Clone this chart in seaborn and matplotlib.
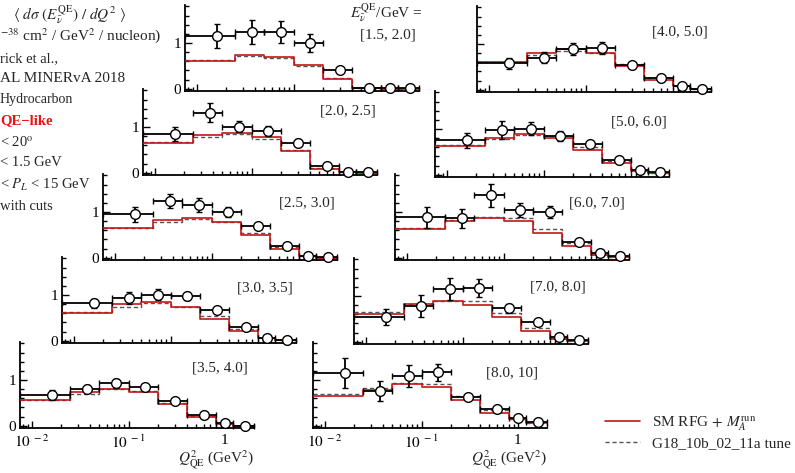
import numpy as np
import pandas as pd
import matplotlib
matplotlib.use("Agg")
import matplotlib.pyplot as plt
import seaborn as sns
from matplotlib.ticker import (LogLocator, FixedLocator, MultipleLocator,
                               FixedFormatter, NullFormatter)
from matplotlib.lines import Line2D

sns.set_theme(style="ticks")
plt.rcParams['font.family'] = ['Liberation Serif', 'DejaVu Serif']
plt.rcParams['mathtext.fontset'] = 'stix'

# ---------------- data ----------------
BIN_EDGES = [0.0, 0.025, 0.05, 0.1, 0.2, 0.4, 0.8, 1.2, 2.0]
Q2_POINTS = [0.016, 0.0375, 0.075, 0.15, 0.3, 0.6, 1.0, 1.6]
E_LABELS = ["[1.5, 2.0]", "[2.0, 2.5]", "[2.5, 3.0]", "[3.0, 3.5]", "[3.5, 4.0]",
            "[4.0, 5.0]", "[5.0, 6.0]", "[6.0, 7.0]", "[7.0, 8.0]", "[8.0, 10]"]

data_15_20 = [1.15, 1.24, 1.24, 1.00, 0.41, 0.015, 0.01, 0.01]
err_15_20 = [0.26, 0.26, 0.23, 0.19, 0.06, 0.02, 0.01, 0.01]
rfg_15_20 = [0.61, 0.73, 0.70, 0.52, 0.21, 0.015, 0.0, 0.0]
g18_15_20 = [0.63, 0.71, 0.68, 0.50, 0.23, 0.02, 0.0, 0.0]

data_20_25 = [0.84, 1.31, 1.00, 0.91, 0.66, 0.15, 0.02, 0.02]
err_20_25 = [0.15, 0.21, 0.12, 0.11, 0.07, 0.03, 0.02, 0.01]
rfg_20_25 = [0.66, 0.82, 0.86, 0.77, 0.47, 0.09, 0.01, 0.0]
g18_20_25 = [0.68, 0.79, 0.84, 0.74, 0.50, 0.11, 0.01, 0.0]

data_25_30 = [0.95, 1.24, 1.16, 0.99, 0.69, 0.26, 0.03, 0.015]
err_25_30 = [0.16, 0.16, 0.15, 0.11, 0.05, 0.03, 0.02, 0.01]
rfg_25_30 = [0.64, 0.82, 0.87, 0.77, 0.49, 0.20, 0.03, 0.0]
g18_25_30 = [0.66, 0.78, 0.84, 0.78, 0.53, 0.23, 0.03, 0.0]

data_30_35 = [0.82, 0.94, 1.01, 0.98, 0.67, 0.29, 0.07, 0.015]
err_30_35 = [0.10, 0.13, 0.12, 0.08, 0.04, 0.03, 0.02, 0.01]
rfg_30_35 = [0.61, 0.80, 0.84, 0.74, 0.47, 0.21, 0.05, 0.01]
g18_30_35 = [0.63, 0.73, 0.82, 0.74, 0.53, 0.25, 0.06, 0.01]

data_35_40 = [0.67, 0.80, 0.93, 0.85, 0.54, 0.24, 0.07, 0.0]
err_35_40 = [0.10, 0.09, 0.10, 0.06, 0.03, 0.02, 0.02, 0.01]
rfg_35_40 = [0.56, 0.74, 0.81, 0.74, 0.48, 0.19, 0.04, 0.0]
g18_35_40 = [0.57, 0.70, 0.80, 0.76, 0.50, 0.21, 0.05, 0.0]

data_40_50 = [0.58, 0.70, 0.89, 0.91, 0.53, 0.26, 0.09, 0.02]
err_40_50 = [0.12, 0.12, 0.13, 0.13, 0.04, 0.03, 0.02, 0.01]
rfg_40_50 = [0.60, 0.80, 0.88, 0.80, 0.51, 0.22, 0.09, 0.02]
g18_40_50 = [0.60, 0.76, 0.84, 0.80, 0.57, 0.25, 0.09, 0.02]

data_50_60 = [0.75, 0.98, 1.01, 0.84, 0.67, 0.32, 0.10, 0.05]
err_50_60 = [0.17, 0.19, 0.15, 0.11, 0.06, 0.03, 0.02, 0.01]
rfg_50_60 = [0.62, 0.80, 0.89, 0.80, 0.55, 0.26, 0.09, 0.03]
g18_50_60 = [0.64, 0.78, 0.87, 0.84, 0.60, 0.30, 0.10, 0.03]

data_60_70 = [0.88, 0.86, 1.36, 1.05, 0.99, 0.35, 0.11, 0.04]
err_60_70 = [0.23, 0.20, 0.25, 0.15, 0.13, 0.04, 0.03, 0.01]
rfg_60_70 = [0.63, 0.80, 0.86, 0.80, 0.54, 0.25, 0.07, 0.02]
g18_60_70 = [0.65, 0.82, 0.90, 0.86, 0.62, 0.33, 0.09, 0.02]

data_70_80 = [0.54, 0.79, 1.15, 1.17, 0.73, 0.42, 0.11, 0.03]
err_70_80 = [0.18, 0.24, 0.24, 0.20, 0.10, 0.04, 0.03, 0.01]
rfg_70_80 = [0.61, 0.83, 0.88, 0.81, 0.53, 0.24, 0.07, 0.02]
g18_70_80 = [0.65, 0.82, 0.90, 0.88, 0.63, 0.30, 0.09, 0.02]

data_80_100 = [1.16, 0.75, 1.09, 1.17, 0.62, 0.37, 0.17, 0.08]
err_80_100 = [0.33, 0.22, 0.24, 0.19, 0.05, 0.04, 0.03, 0.02]
rfg_80_100 = [0.64, 0.79, 0.91, 0.84, 0.57, 0.28, 0.14, 0.05]
g18_80_100 = [0.69, 0.82, 0.93, 0.91, 0.64, 0.34, 0.15, 0.05]

DATA = [data_15_20, data_20_25, data_25_30, data_30_35, data_35_40,
        data_40_50, data_50_60, data_60_70, data_70_80, data_80_100]
ERRS = [err_15_20, err_20_25, err_25_30, err_30_35, err_35_40,
        err_40_50, err_50_60, err_60_70, err_70_80, err_80_100]
RFG = [rfg_15_20, rfg_20_25, rfg_25_30, rfg_30_35, rfg_35_40,
       rfg_40_50, rfg_50_60, rfg_60_70, rfg_70_80, rfg_80_100]
G18 = [g18_15_20, g18_20_25, g18_25_30, g18_30_35, g18_35_40,
       g18_40_50, g18_50_60, g18_60_70, g18_70_80, g18_80_100]

# ---------------- layout ----------------
W, H = 795, 473
AX_W, AX_H = 234, 86
LAYOUT = [(185, 91), (143, 175), (103, 260), (62, 343), (20, 428),
          (477, 92), (435, 177), (395, 260), (354, 344), (313, 428)]
LABEL_POS = [(0.867, 0.65), (0.876, 0.74), (0.872, 0.66), (0.867, 0.64), (0.855, 0.70),
             (0.865, 0.70), (0.87, 0.64), (0.864, 0.66), (0.87, 0.66), (0.85, 0.64)]
XLIM = (0.0075, 2.0)
YLIM = (-0.05, 1.83)
RED = '#c01818'
GRAY = '#555555'
FS = 10
FS_LAB = 11

fig = plt.figure(figsize=(W / 100, H / 100), dpi=100)
fig.patch.set_facecolor('white')

edges = np.clip(np.array(BIN_EDGES), XLIM[0], None)
pts = np.array(Q2_POINTS)
xerr = [pts - edges[:-1], edges[1:] - pts]

for i, (l, b) in enumerate(LAYOUT):
    ax = fig.add_axes([l / W, 1 - b / H, AX_W / W, AX_H / H])
    ax.patch.set_alpha(0)
    ax.set_xscale('log')
    df = pd.DataFrame({'q2': edges,
                       'rfg': RFG[i] + [RFG[i][-1]],
                       'g18': G18[i] + [G18[i][-1]]})
    sns.lineplot(data=df, x='q2', y='g18', ax=ax, drawstyle='steps-post',
                 color=GRAY, lw=1.0, linestyle=(0, (3, 2)), estimator=None,
                 sort=False, zorder=2)
    sns.lineplot(data=df, x='q2', y='rfg', ax=ax, drawstyle='steps-post',
                 color=RED, lw=1.2, estimator=None, sort=False, zorder=3)
    ax.errorbar(pts, DATA[i], yerr=ERRS[i], xerr=xerr, fmt='o', mfc='white',
                mec='black', mew=1.0, color='black', ms=7, capsize=2.5,
                elinewidth=1.3, capthick=1.2, zorder=5, clip_on=False)
    ax.set_xlim(XLIM)
    ax.set_ylim(YLIM)
    ax.set_xlabel('')
    ax.set_ylabel('')
    ax.xaxis.set_major_locator(FixedLocator([0.01, 0.1, 1.0]))
    ax.xaxis.set_minor_locator(LogLocator(base=10, subs=np.arange(2, 10) * 1.0, numticks=20))
    ax.xaxis.set_minor_formatter(NullFormatter())
    ax.yaxis.set_major_locator(FixedLocator([0, 1]))
    ax.yaxis.set_minor_locator(MultipleLocator(0.2))
    ax.tick_params(which='both', direction='in', top=False, right=False,
                   width=1.0, color='black', labelsize=FS_LAB, labelcolor='black')
    ax.tick_params(which='major', length=5)
    ax.tick_params(which='minor', length=3)
    for s in ['top', 'right']:
        ax.spines[s].set_visible(False)
    for s in ['left', 'bottom']:
        ax.spines[s].set_linewidth(1.3)
        ax.spines[s].set_color('black')
    if i < 5:
        ax.yaxis.set_major_formatter(FixedFormatter(['0', '1']))
        ax.tick_params(axis='y', pad=3)
    else:
        ax.tick_params(axis='y', labelleft=False)
    if i in (4, 9):
        ax.xaxis.set_major_formatter(FixedFormatter([r'$10^{\ -2}$', r'$10^{\ -1}$', '1']))
        ax.tick_params(axis='x', pad=4)
        ax.set_xlabel(r'$Q^2_{\rm QE}$ (GeV$^2$)', loc='right', fontsize=FS_LAB,
                      labelpad=-2)
    else:
        ax.tick_params(axis='x', labelbottom=False)
    ax.text(LABEL_POS[i][0], LABEL_POS[i][1], E_LABELS[i], transform=ax.transAxes,
            ha='center', va='center', fontsize=FS_LAB)
    if i == 0:
        ax.text(0.86, 0.91, r'$E_{\bar{\nu}}^{\rm QE}$/GeV =', transform=ax.transAxes,
                ha='center', va='center', fontsize=FS_LAB)

# ---------------- header text ----------------
def ftext(xp, yp, s, size=10.5, **kw):
    fig.text(xp / W, 1 - yp / H, s, ha='left', va='center', fontsize=size, **kw)

ftext(13, 15, r'$\langle\ d\sigma\ (E^{\rm QE}_{\bar{\nu}})\ /\ dQ^2\ \rangle$', size=11)
ftext(0, 36, r'$^{-38}$ cm$^2$ / GeV$^2$ / nucleon)', size=11)
ftext(0, 59, 'rick et al.,')
ftext(0, 79, 'AL MINERvA 2018', size=11)
ftext(0, 100, 'Hydrocarbon', size=10)
ftext(0, 121, 'QE\u2212like', color='#ee1111', fontweight='bold')
ftext(0, 143, r'< 20$^{\rm o}$')
ftext(0, 163, '< 1.5 GeV')
ftext(0, 185, r'< $P_L$ < 15 GeV')
ftext(0, 206, 'with cuts')

# ---------------- legend ----------------
handles = [Line2D([], [], color=RED, lw=1.2),
           Line2D([], [], color=GRAY, lw=1.0, linestyle=(0, (3, 2)))]
labels = [r'SM RFG$\,+\,M_A^{\rm run}$', 'G18_10b_02_11a tune']
fig.legend(handles, labels, loc='upper left', bbox_to_anchor=(605 / W, 1 - 414 / H),
           frameon=False, fontsize=FS_LAB, handlelength=2.3, handletextpad=0.8,
           borderpad=0, borderaxespad=0, labelspacing=0.25)

fig.savefig('out.png', dpi=100, facecolor='white')
